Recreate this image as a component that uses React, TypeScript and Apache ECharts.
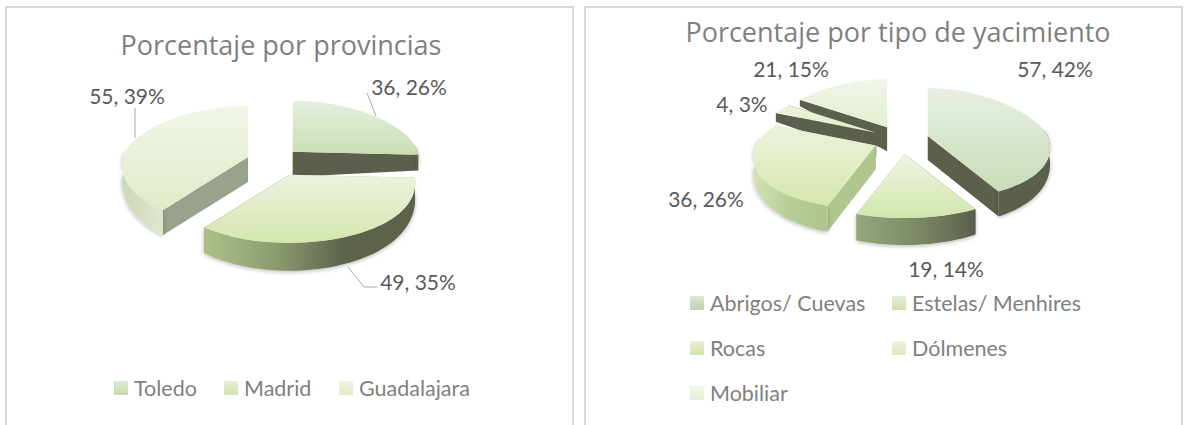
import React, { useEffect, useRef } from "react";
import * as echarts from "echarts";

const provCategories = ["Toledo", "Madrid", "Guadalajara"];
const provValues = [36, 49, 55];
const provDrawOrder = [2, 0, 1];

const typeCategories = ["Abrigos/ Cuevas", "Estelas/ Menhires", "Rocas", "Dólmenes", "Mobiliar"];
const typeValues = [57, 19, 36, 4, 21];
const typeDrawOrder = [4, 3, 2, 0, 1];

const GREY = "#7f7f7f";
const LABEL = "#595959";
const FONT = "Lato, 'Open Sans', sans-serif";
const TITLE_FONT = "'Open Sans', Lato, sans-serif";

type Look = { top: [string, string]; side: string[]; cutStart: string; cutEnd: string; swatch: [string, string] };

const DARK = "#5b5f4b";
const provLook: Look[] = [
  { top: ["#e6efdf", "#c9ddb2"], side: [DARK, DARK], cutStart: DARK, cutEnd: DARK, swatch: ["#dfe9d6", "#c4d9ac"] },
  { top: ["#ecf3df", "#d5e6ae"], side: ["#aebf8a", "#8d9c70", "#5c634a", "#5c634a"], cutStart: "#a5b682", cutEnd: DARK, swatch: ["#e6efd2", "#d3e4ab"] },
  { top: ["#f0f6e8", "#dfebc8"], side: ["#cbd8b6", "#dfe8cc"], cutStart: "#99a38c", cutEnd: "#99a38c", swatch: ["#eff5e6", "#dfeac8"] },
];
const typeLook: Look[] = [
  { top: ["#e7efe1", "#c9dcb8"], side: [DARK, DARK], cutStart: DARK, cutEnd: DARK, swatch: ["#dde7d6", "#bed3b0"] },
  { top: ["#eef5e2", "#d3e5ae"], side: ["#98a67f", "#7d8a66", "#5b5f4b"], cutStart: DARK, cutEnd: "#98a67f", swatch: ["#e5eed8", "#cde0ad"] },
  { top: ["#ebf3dc", "#d6e6ae"], side: ["#d3e2b4", "#b8cc96", "#afc48c"], cutStart: "#b1c58f", cutEnd: "#b1c58f", swatch: ["#e8f0d5", "#d2e3ab"] },
  { top: ["#ecf4e0", "#e0ecc8"], side: [DARK, DARK], cutStart: DARK, cutEnd: DARK, swatch: ["#ecf3df", "#dce9c4"] },
  { top: ["#f0f6e8", "#e2eed2"], side: [DARK, DARK], cutStart: DARK, cutEnd: DARK, swatch: ["#f1f6ea", "#e4efd6"] },
];

type Pie = {
  cx: number; cy: number; rx: number; ryBack: number; ryFront: number;
  persp: number; explode: number; squash: number; skew: number;
  depthBase: number; depthFront: number; apexDepth: number;
};
const provPie: Pie = { cx: 275, cy: 161.7, rx: 125, ryBack: 51, ryFront: 68, persp: 0.12, explode: 27.5, squash: 0.52, skew: 3.2, depthBase: 15, depthFront: 13, apexDepth: 25 };
const typePie: Pie = { cx: 901, cy: 139.8, rx: 120, ryBack: 48, ryFront: 64, persp: 0.2, explode: 28, squash: 0.51, skew: 1, depthBase: 14, depthFront: 13, apexDepth: 24 };

const hGrad = (c: string[]) =>
  new echarts.graphic.LinearGradient(0, 0, 1, 0, c.map((color, i) => ({ offset: c.length > 1 ? i / (c.length - 1) : 0, color })));
const vGrad = (c: string[]) =>
  new echarts.graphic.LinearGradient(0, 0, 0, 1, c.map((color, i) => ({ offset: c.length > 1 ? i / (c.length - 1) : 0, color })));

function makeRender(values: number[], index: number, pie: Pie, look: Look) {
  return () => {
    const total = values.reduce((a, b) => a + b, 0);
    const before = values.slice(0, index).reduce((a, b) => a + b, 0);
    const a0 = (before / total) * Math.PI * 2;
    const a1 = ((before + values[index]) / total) * Math.PI * 2;
    const mid = (a0 + a1) / 2;
    const ax = pie.cx + pie.explode * Math.sin(mid) - pie.skew * Math.cos(mid);
    const ay = pie.cy - pie.explode * pie.squash * Math.cos(mid);
    const rim = (a: number): number[] => {
      const c = Math.cos(a), s = Math.sin(a);
      return [ax + pie.rx * s * (1 - pie.persp * c), ay - c * (c > 0 ? pie.ryBack : pie.ryFront)];
    };
    const depth = (a: number) => pie.depthBase - pie.depthFront * Math.cos(a);
    const steps = Math.max(4, Math.ceil((a1 - a0) / 0.04));
    const arc: number[][] = [];
    const frontTop: number[][] = [];
    const frontLow: number[][] = [];
    for (let i = 0; i <= steps; i++) {
      const a = a0 + ((a1 - a0) * i) / steps;
      const p = rim(a);
      arc.push(p);
      if (Math.cos(a) < 0.15) {
        frontTop.push(p);
        frontLow.push([p[0], p[1] + depth(a)]);
      }
    }
    const apex = [ax, ay];
    const apexLow = [ax, ay + pie.apexDepth];
    const low = (a: number) => {
      const p = rim(a);
      return [p[0], p[1] + depth(a)];
    };
    const children: any[] = [
      { type: "polygon", shape: { points: [apex, arc[0], low(a0), apexLow] }, style: { fill: look.cutStart } },
      { type: "polygon", shape: { points: [apex, arc[steps], low(a1), apexLow] }, style: { fill: look.cutEnd } },
    ];
    if (frontTop.length > 1) {
      children.push({
        type: "polygon",
        shape: { points: [...frontTop, ...frontLow.slice().reverse()] },
        style: { fill: hGrad(look.side), shadowBlur: 4, shadowColor: "rgba(0,0,0,0.3)", shadowOffsetY: 1 },
      });
    }
    children.push({ type: "polygon", shape: { points: [apex, ...arc] }, style: { fill: vGrad(look.top) } });
    return { type: "group", children };
  };
}

const fmt = (values: number[], i: number) => {
  const total = values.reduce((a, b) => a + b, 0);
  return `${values[i]}, ${Math.round((values[i] / total) * 100)}%`;
};

const provLabelAt = [[409, 86], [418, 281], [127, 95]];
const typeLabelAt = [[1055, 68], [946, 268], [706, 198], [742, 103], [791, 68]];
const leaderLines = [
  [[367, 93], [376, 116]],
  [[348, 267], [364, 287], [377, 287]],
  [[135, 108], [135, 138]],
];
const provLegendAt = [[114, 377], [224, 377], [339, 377]];
const typeLegendAt = [[690, 292], [892, 292], [690, 337], [892, 337], [690, 382]];

function buildOption() {
  const series: any[] = [];
  provDrawOrder.forEach((i) =>
    series.push({
      type: "custom",
      name: provCategories[i],
      coordinateSystem: "none",
      data: [provValues[i]],
      renderItem: makeRender(provValues, i, provPie, provLook[i]),
      itemStyle: { color: vGrad(provLook[i].swatch) },
      silent: true,
    })
  );
  typeDrawOrder.forEach((i) =>
    series.push({
      type: "custom",
      name: typeCategories[i],
      coordinateSystem: "none",
      data: [typeValues[i]],
      renderItem: makeRender(typeValues, i, typePie, typeLook[i]),
      itemStyle: { color: vGrad(typeLook[i].swatch) },
      silent: true,
    })
  );
  const legendFor = (name: string, at: number[], color: any) => ({
    data: [{ name, itemStyle: { color }, icon: "rect" }],
    left: at[0],
    top: at[1],
    padding: 0,
    itemWidth: 14,
    itemHeight: 14,
    itemGap: 0,
    selectedMode: false,
    textStyle: { color: GREY, fontFamily: FONT, fontSize: 21.5, padding: [0, 0, 0, 1] },
  });
  const graphics: any[] = [
    { type: "polyline", silent: true, shape: { points: [[6, 425], [6, 7], [573, 7], [573, 425]] }, style: { fill: "none", stroke: "#d9d9d9", lineWidth: 2 } },
    { type: "polyline", silent: true, shape: { points: [[585, 425], [585, 7], [1182, 7], [1182, 425]] }, style: { fill: "none", stroke: "#d9d9d9", lineWidth: 2 } },
  ];
  leaderLines.forEach((points) =>
    graphics.push({ type: "polyline", silent: true, z: 20, shape: { points }, style: { fill: "none", stroke: "#a6a6a6", lineWidth: 1 } })
  );
  provValues.forEach((_, i) =>
    graphics.push({
      type: "text", silent: true, z: 20, x: provLabelAt[i][0], y: provLabelAt[i][1],
      style: { text: fmt(provValues, i), fill: LABEL, font: `21px ${FONT}`, align: "center", verticalAlign: "middle" },
    })
  );
  typeValues.forEach((_, i) =>
    graphics.push({
      type: "text", silent: true, z: 20, x: typeLabelAt[i][0], y: typeLabelAt[i][1],
      style: { text: fmt(typeValues, i), fill: LABEL, font: `21px ${FONT}`, align: "center", verticalAlign: "middle" },
    })
  );
  return {
    animation: false,
    backgroundColor: "#ffffff",
    title: [
      { text: "Porcentaje por provincias", left: 276, top: 26, textAlign: "center", textStyle: { color: GREY, fontFamily: TITLE_FONT, fontSize: 27, fontWeight: "normal" } },
      { text: "Porcentaje por tipo de yacimiento", left: 893, top: 13, textAlign: "center", textStyle: { color: GREY, fontFamily: TITLE_FONT, fontSize: 27, fontWeight: "normal" } },
    ],
    legend: [
      ...provCategories.map((n, i) => legendFor(n, provLegendAt[i], vGrad(provLook[i].swatch))),
      ...typeCategories.map((n, i) => legendFor(n, typeLegendAt[i], vGrad(typeLook[i].swatch))),
    ],
    graphic: graphics,
    series,
  };
}

export default function App() {
  const ref = useRef<HTMLDivElement>(null);
  useEffect(() => {
    document.body.style.margin = "0";
    const chart = echarts.init(ref.current!, undefined, { renderer: "svg" });
    chart.setOption(buildOption());
    return () => chart.dispose();
  }, []);
  return <div ref={ref} style={{ width: 1188, height: 425 }} />;
}
